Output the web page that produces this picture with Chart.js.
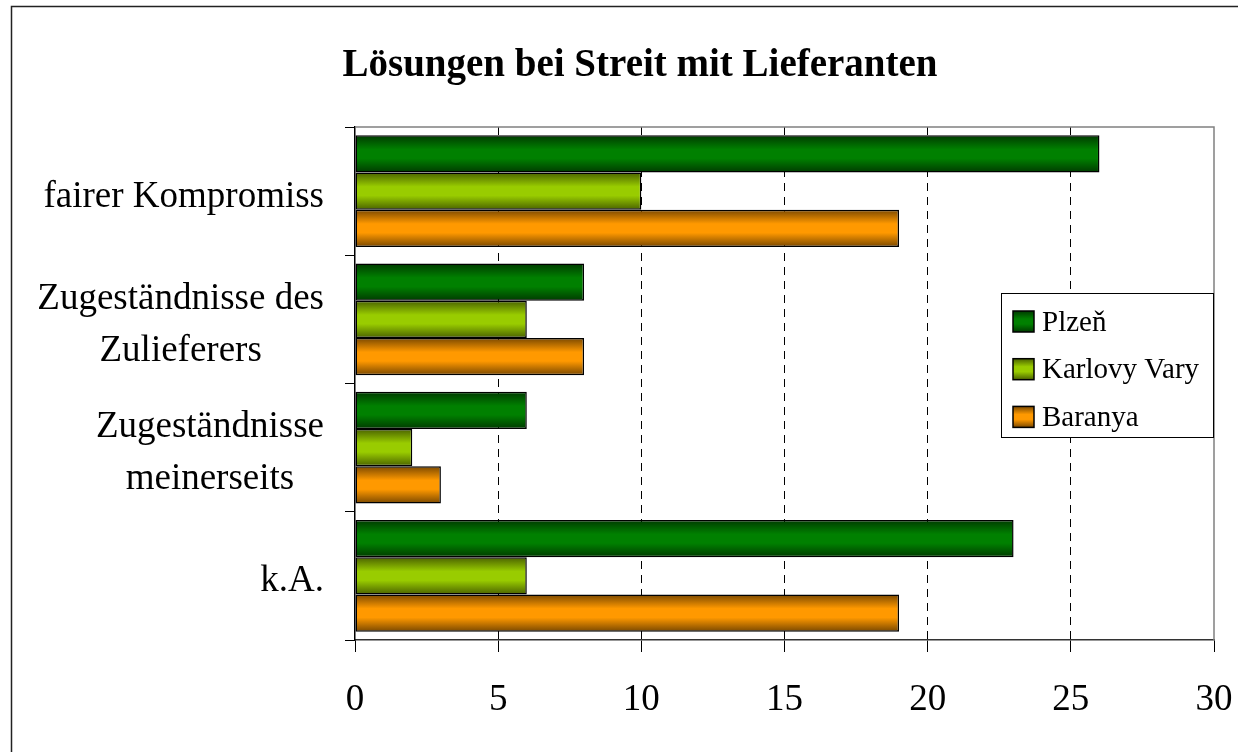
<!DOCTYPE html>
<html>
<head>
<meta charset="utf-8">
<script src="https://cdn.jsdelivr.net/npm/chart.js@4/dist/chart.umd.min.js"></script>
<style>
  html, body { margin: 0; padding: 0; background: #fff; }
  #wrap { width: 1238px; height: 752px; }
</style>
</head>
<body>
<div id="wrap"><canvas id="streitChart" width="1238" height="752"></canvas></div>
<script>
// Lösungen bei Streit mit Lieferanten - horizontal grouped bars

const chartTitle = "Lösungen bei Streit mit Lieferanten";
const categories = [
  ["fairer Kompromiss"],
  ["Zugeständnisse des", "Zulieferers"],
  ["Zugeständnisse", "meinerseits"],
  ["k.A."],
];
const seriesNames = ["Plzeň", "Karlovy Vary", "Baranya"];
const plzen = [26, 8, 6, 23];
const karlovyVary = [10, 6, 2, 6];
const baranya = [19, 8, 3, 19];
const xTicks = [0, 5, 10, 15, 20, 25, 30];

// dark edge / bright middle, like the old office gradient fill
const shades = [
  ["#003a00", "#008000"],
  ["#4a6200", "#99cc00"],
  ["#7a4800", "#ff9900"],
];

const SERIF = "'Liberation Serif', 'Times New Roman', serif";

function makeGradient(ctx, top, bottom, pair) {
  const g = ctx.createLinearGradient(0, top, 0, bottom);
  g.addColorStop(0, pair[0]);
  g.addColorStop(0.38, pair[1]);
  g.addColorStop(0.62, pair[1]);
  g.addColorStop(1, pair[0]);
  return g;
}

const seriesValues = [plzen, karlovyVary, baranya];

// give every bar its own vertical gradient, using the element's position
const gradientPlugin = {
  id: "barGradient",
  beforeDatasetsDraw(chart) {
    chart.data.datasets.forEach((ds, i) => {
      const meta = chart.getDatasetMeta(i);
      meta.data.forEach((el) => {
        const { y, height } = el.getProps(["y", "height"], true);
        const g = makeGradient(chart.ctx, y - height / 2, y + height / 2, shades[i]);
        el.options = Object.assign({}, el.options, { backgroundColor: g });
      });
    });
  },
};

// title, frame, plot border, category labels and legend
const decoPlugin = {
  id: "deco",
  afterDraw(chart) {
    const ctx = chart.ctx;
    const area = chart.chartArea;
    const yScale = chart.scales.y;
    ctx.save();

    // outer frame
    ctx.strokeStyle = "#222";
    ctx.lineWidth = 1.5;
    ctx.strokeRect(11.5, 6.5, 1300, 800);

    // grey plot border top + right
    ctx.strokeStyle = "#808080";
    ctx.lineWidth = 1.5;
    ctx.beginPath();
    ctx.moveTo(area.left, area.top);
    ctx.lineTo(area.right, area.top);
    ctx.lineTo(area.right, area.bottom);
    ctx.stroke();

    // title
    ctx.fillStyle = "#000";
    ctx.font = "bold 39px " + SERIF;
    ctx.textAlign = "center";
    ctx.textBaseline = "alphabetic";
    ctx.fillText(chartTitle, 640, 76);

    // category labels: block right-aligned, lines centred inside the block
    ctx.font = "37px " + SERIF;
    categories.forEach((lines, i) => {
      const mid = yScale.getPixelForValue(i);
      const widest = Math.max(...lines.map((l) => ctx.measureText(l).width));
      const cx = 324 - widest / 2;
      lines.forEach((line, k) => {
        ctx.fillText(line, cx, mid + 15.5 + (k - (lines.length - 1) / 2) * 52);
      });
    });

    // legend box
    const lx = 1001, ly = 293, lw = 212, lh = 144;
    ctx.fillStyle = "#fff";
    ctx.fillRect(lx, ly, lw, lh);
    ctx.strokeStyle = "#000";
    ctx.lineWidth = 1;
    ctx.strokeRect(lx + 0.5, ly + 0.5, lw, lh);
    ctx.font = "29px " + SERIF;
    ctx.textAlign = "left";
    chart.data.datasets.forEach((ds, i) => {
      const my = 311 + i * 47.7;
      ctx.fillStyle = makeGradient(ctx, my, my + 21, shades[i]);
      ctx.fillRect(1013, my, 21, 21);
      ctx.strokeStyle = "#000";
      ctx.lineWidth = 1.5;
      ctx.strokeRect(1013, my, 21, 21);
      ctx.fillStyle = "#000";
      ctx.fillText(ds.label, 1042, my + 19.5);
    });

    ctx.restore();
  },
};

const ctx = document.getElementById("streitChart").getContext("2d");
new Chart(ctx, {
  type: "bar",
  data: {
    labels: categories,
    datasets: seriesNames.map((name, i) => ({
      label: name,
      data: seriesValues[i],
      backgroundColor: shades[i][1],
      borderColor: "#000",
      borderWidth: 1.5,
      borderSkipped: false,
      barPercentage: 1,
      categoryPercentage: 0.87,
    })),
  },
  options: {
    indexAxis: "y",
    responsive: false,
    animation: false,
    layout: { padding: { top: 127, right: 24, bottom: 0, left: 0 } },
    plugins: {
      legend: { display: false },
      title: { display: false },
      tooltip: { enabled: false },
    },
    scales: {
      x: {
        min: 0,
        max: 30,
        afterFit: (scale) => {
          scale.height = 112;
          scale.paddingLeft = 0;
          scale.paddingRight = 0;
        },
        afterBuildTicks: (scale) => { scale.ticks = xTicks.map((v) => ({ value: v })); },
        ticks: {
          color: "#000",
          font: { family: SERIF, size: 37 },
          padding: 26,
        },
        grid: {
          color: (c) => (c.index === 0 || c.index === xTicks.length - 1 ? "rgba(0,0,0,0)" : "#000"),
          lineWidth: 1,
          tickLength: 12,
          tickColor: "#000",
          tickBorderDash: [],
        },
        border: { color: "#333", width: 1.5, dash: [8, 6] },
      },
      y: {
        afterFit: (scale) => { scale.width = 355; },
        ticks: { display: false },
        grid: {
          drawOnChartArea: false,
          tickLength: 10,
          tickColor: "#000",
          color: "#000",
        },
        border: { color: "#000", width: 1.5 },
      },
    },
  },
  plugins: [gradientPlugin, decoPlugin],
});
</script>
</body>
</html>
